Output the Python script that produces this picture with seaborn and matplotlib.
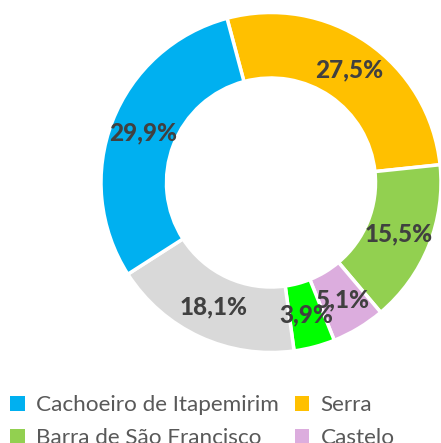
"""
Doughnut chart - share by municipality
"""

import matplotlib.pyplot as plt
import seaborn as sns
from matplotlib.patches import Patch

# Data (clockwise from top)
categories = [
    "Serra",
    "Barra de São Francisco",
    "Castelo",
    "Categoria 5",
    "Categoria 6",
    "Cachoeiro de Itapemirim",
]
values = [27.5, 15.5, 5.1, 3.9, 18.1, 29.9]
colors = ["#FFC000", "#92D050", "#DCADDE", "#00FF00", "#D9D9D9", "#00B0F0"]

# Legend entries visible in the picture (column by column)
legend_labels = [
    "Cachoeiro de Itapemirim",
    "Barra de São Francisco",
    "Serra",
    "Castelo",
]

sns.set_theme(style="white")
plt.rcParams["font.family"] = ["Lato", "DejaVu Sans"]

W, H = 441, 443
cx, cy = 271, 443 - 182.5  # centre in pixels
radius = 170
ring = 65.5

fig = plt.figure(figsize=(W / 100, H / 100), dpi=100)
ax = fig.add_axes([0, 0, 1, 1])
ax.set_aspect("equal")
ax.axis("off")

wedges, texts, autotexts = ax.pie(
    values,
    colors=colors,
    radius=radius,
    startangle=105,
    counterclock=False,
    autopct=lambda p: f"{p:.1f}%".replace(".", ","),
    pctdistance=(radius - ring / 2) / radius,
    wedgeprops=dict(width=ring, edgecolor="white", linewidth=2.5),
    textprops=dict(color="#404040", fontsize=17.5, fontweight="black"),
    frame=False,
)
ax.set_xlim(-cx, W - cx)
ax.set_ylim(-cy, H - cy)

color_map = dict(zip(categories, colors))
handles = [
    Patch(facecolor=color_map[name], edgecolor="none") for name in legend_labels
]
ax.legend(
    handles,
    legend_labels,
    ncol=2,
    loc="upper left",
    bbox_to_anchor=(10 / W, 1 - 395 / H),
    bbox_transform=fig.transFigure,
    frameon=False,
    fontsize=16.2,
    labelcolor="#595959",
    handlelength=0.65,
    handleheight=0.65,
    handletextpad=0.5,
    columnspacing=0.7,
    labelspacing=0.6,
    borderaxespad=0,
    borderpad=0,
)

fig.savefig("out.png", dpi=100)
plt.close("all")
